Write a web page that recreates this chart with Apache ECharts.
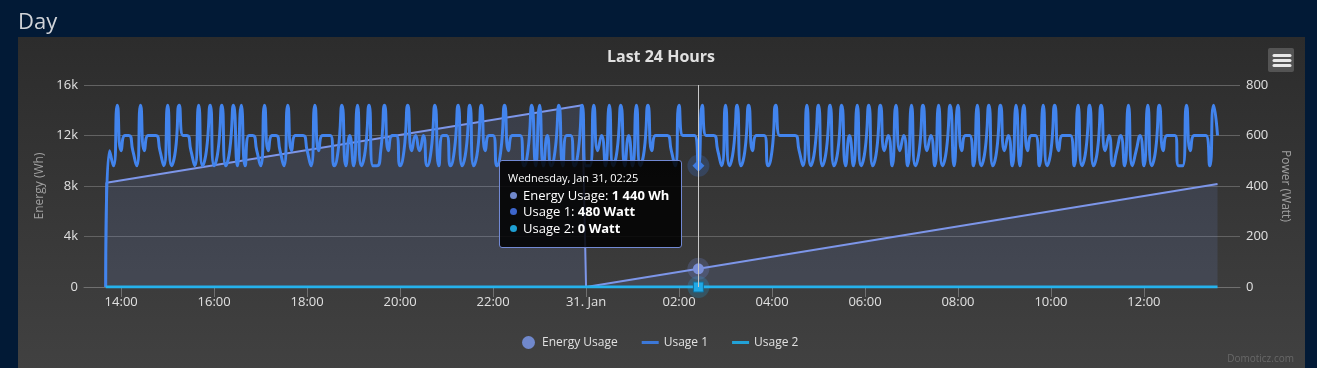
<!DOCTYPE html>
<html><head><meta charset="utf-8">
<script src="https://cdn.jsdelivr.net/npm/echarts@6/dist/echarts.min.js"></script>
<style>
html,body{margin:0;padding:0;background:#021a36;overflow:hidden;}
#panel{position:absolute;left:18px;top:37px;width:1287px;height:331px;background:linear-gradient(to bottom,#2c2c2c,#414141);}
#c{position:absolute;left:0;top:0;width:1317px;height:368px;}
</style>
</head><body><div id="panel"></div><div id="c"></div>
<script>
// ---- data ----
const seriesNames = ['Energy Usage', 'Usage 1', 'Usage 2'];
const seriesUnits = ['Wh', 'Watt', 'Watt'];
const startTime = '2018-01-30T13:40:00Z';   // first 5-minute sample
const stepMinutes = 5;
const axisStart = '2018-01-30T13:12:00Z';
const axisEnd = '2018-01-31T14:04:00Z';
const tipTime = '2018-01-31T02:25:00Z';

const xTickTimes = ['2018-01-30T14:00:00Z', '2018-01-30T16:00:00Z', '2018-01-30T18:00:00Z',
                    '2018-01-30T20:00:00Z', '2018-01-30T22:00:00Z', '2018-01-31T00:00:00Z',
                    '2018-01-31T02:00:00Z', '2018-01-31T04:00:00Z', '2018-01-31T06:00:00Z',
                    '2018-01-31T08:00:00Z', '2018-01-31T10:00:00Z', '2018-01-31T12:00:00Z'];

const energyTimes = ['2018-01-30T13:40:00Z', '2018-01-30T13:41:00Z', '2018-01-30T23:55:00Z',
                     '2018-01-31T00:00:00Z', '2018-01-31T02:25:00Z', '2018-01-31T13:35:00Z'];
const energyValues = [0, 8260, 14400, 0, 1440, 8160];

const usage1Values = [
  0,540,480,720,540,600,600,540,480,720,540,600,
  600,600,540,480,720,480,540,720,600,600,540,480,
  720,480,540,720,480,540,720,480,540,720,480,720,
  480,600,600,540,480,720,540,600,600,540,480,720,
  540,600,600,600,540,480,720,540,600,600,600,480,
  540,720,480,600,480,720,480,540,720,480,480,540,
  720,540,600,600,480,540,720,540,600,540,600,480,
  540,720,480,600,600,480,540,720,480,540,720,480,
  540,720,540,600,600,480,540,720,540,600,600,600,
  480,540,720,480,720,480,600,480,540,720,480,600,
  600,480,540,720,480,480,720,540,600,480,720,480,
  540,720,480,600,480,720,480,540,720,540,600,600,
  600,600,540,480,720,600,600,600,600,480,720,600,
  600,600,540,480,720,480,540,720,480,540,720,540,
  600,600,600,480,540,720,600,600,600,600,600,540,
  480,720,480,540,720,480,540,720,480,540,720,480,
  600,480,720,480,540,720,480,540,720,540,600,480,
  720,540,600,480,720,480,540,720,540,600,480,720,
  480,540,720,480,720,540,600,600,480,720,480,540,
  720,480,540,720,540,600,480,720,480,720,540,600,
  600,480,720,480,540,720,540,600,600,600,480,720,
  480,540,720,480,540,720,540,600,480,540,600,480,
  720,480,540,600,480,720,480,540,720,540,600,600,
  600,480,480,720,540,600,600,600,600,480,720,600
];
const usage2Values = [
  0,0,0,0,0,0,0,0,0,0,0,0,0,0,0,0,0,0,0,0,0,0,0,0,
  0,0,0,0,0,0,0,0,0,0,0,0,0,0,0,0,0,0,0,0,0,0,0,0,
  0,0,0,0,0,0,0,0,0,0,0,0,0,0,0,0,0,0,0,0,0,0,0,0,
  0,0,0,0,0,0,0,0,0,0,0,0,0,0,0,0,0,0,0,0,0,0,0,0,
  0,0,0,0,0,0,0,0,0,0,0,0,0,0,0,0,0,0,0,0,0,0,0,0,
  0,0,0,0,0,0,0,0,0,0,0,0,0,0,0,0,0,0,0,0,0,0,0,0,
  0,0,0,0,0,0,0,0,0,0,0,0,0,0,0,0,0,0,0,0,0,0,0,0,
  0,0,0,0,0,0,0,0,0,0,0,0,0,0,0,0,0,0,0,0,0,0,0,0,
  0,0,0,0,0,0,0,0,0,0,0,0,0,0,0,0,0,0,0,0,0,0,0,0,
  0,0,0,0,0,0,0,0,0,0,0,0,0,0,0,0,0,0,0,0,0,0,0,0,
  0,0,0,0,0,0,0,0,0,0,0,0,0,0,0,0,0,0,0,0,0,0,0,0,
  0,0,0,0,0,0,0,0,0,0,0,0,0,0,0,0,0,0,0,0,0,0,0,0
];
const energyTicks = [0, 4000, 8000, 12000, 16000];
const powerTicks = [0, 200, 400, 600, 800];

// ---- build ----
const MONTHS = ['Jan','Feb','Mar','Apr','May','Jun','Jul','Aug','Sep','Oct','Nov','Dec'];
const DAYS = ['Sunday','Monday','Tuesday','Wednesday','Thursday','Friday','Saturday'];
const pad = n => (n < 10 ? '0' : '') + n;
const grp = v => String(v).replace(/\B(?=(\d{3})+(?!\d))/g, ' ');
const stepMs = stepMinutes * 60000;
const t0 = Date.parse(startTime);
const tipT = Date.parse(tipTime);
const usageTimes = usage1Values.map((_, i) => t0 + i * stepMs);
const energyData = energyTimes.map((t, i) => [Date.parse(t), energyValues[i]]);
const usage1Data = usage1Values.map((v, i) => [usageTimes[i], v]);
const usage2Data = usage2Values.map((v, i) => [usageTimes[i], v]);
const xTicks = xTickTimes.map(t => Date.parse(t));
const tipIndex = usageTimes.indexOf(tipT);
const tipEnergy = energyValues[energyTimes.indexOf(tipTime)];

const C_EN = '#7289d4', C_U1 = '#3c78d8', C_U2 = '#22a2d8';
const BULLETS = ['#7088cc', '#3d66cc', '#1e9fd3'];
const FONT = '"Open Sans", "Noto Sans", sans-serif';

function tipFormatter(params) {
  const d = new Date(params[0].axisValue);
  let h = '<div style="font-size:11px;line-height:16.7px">' + DAYS[d.getUTCDay()] + ', ' +
    MONTHS[d.getUTCMonth()] + ' ' + d.getUTCDate() + ', ' + pad(d.getUTCHours()) + ':' + pad(d.getUTCMinutes()) + '</div>';
  params.filter(p => p.seriesIndex < 3).forEach(p => {
    h += '<div style="line-height:16.7px"><span style="display:inline-block;width:7px;height:7px;border-radius:50%;background:' +
      BULLETS[p.seriesIndex] + ';margin:0 6px 0 2px;vertical-align:1px"></span>' + p.seriesName + ': <b>' +
      grp(p.value[1]) + ' ' + seriesUnits[p.seriesIndex] + '</b></div>';
  });
  return h;
}
const lineIcon = 'path://M0,0 L0.01,0 L0.01,0.01 Z M0,5 L17,5 L17,8 L0,8 Z M16.99,12.99 L17,12.99 L17,13 Z';
const xLabel = function (v) {
  const d = new Date(v);
  if (d.getUTCHours() === 0 && d.getUTCMinutes() === 0) return d.getUTCDate() + '. ' + MONTHS[d.getUTCMonth()];
  return pad(d.getUTCHours()) + ':' + pad(d.getUTCMinutes());
};
const haloSeries = (name, axis, value, color) => ({
  name: name, type: 'scatter', yAxisIndex: axis, data: [[tipT, value]], z: 0,
  symbol: 'circle', symbolSize: 22, silent: true, tooltip: {show: false},
  itemStyle: {color: color}, emphasis: {disabled: true}
});

const chart = echarts.init(document.getElementById('c'), null, {renderer: 'canvas'});
chart.setOption({
  animation: false,
  backgroundColor: 'transparent',
  textStyle: {fontFamily: FONT},
  graphic: [
    {type: 'text', x: 18, y: 23, style: {text: 'Day', font: '22px ' + FONT, fill: '#d0d3d8', verticalAlign: 'middle'}},
    {type: 'text', x: 661, y: 57, style: {text: 'Last 24 Hours', font: 'bold 16px ' + FONT, fill: '#e0e0e0', align: 'center', verticalAlign: 'middle'}},
    {type: 'rect', shape: {x: 1268, y: 48, width: 26, height: 24, r: 2}, style: {fill: '#545454'}},
    {type: 'line', shape: {x1: 1274, y1: 55.5, x2: 1290, y2: 55.5}, style: {stroke: '#e8e8e8', lineWidth: 3, lineCap: 'round'}},
    {type: 'line', shape: {x1: 1274, y1: 60.5, x2: 1290, y2: 60.5}, style: {stroke: '#e8e8e8', lineWidth: 3, lineCap: 'round'}},
    {type: 'line', shape: {x1: 1274, y1: 65.5, x2: 1290, y2: 65.5}, style: {stroke: '#e8e8e8', lineWidth: 3, lineCap: 'round'}},
    {type: 'text', x: 1294, y: 359, style: {text: 'Domoticz.com', font: '10px ' + FONT, fill: '#686868', align: 'right', verticalAlign: 'middle'}}
  ],
  grid: {left: 84, right: 77, top: 85, bottom: 81, containLabel: false},
  legend: {
    left: 517, top: 331, itemWidth: 17, itemHeight: 13, itemGap: 24,
    textStyle: {color: '#e0e0e0', fontSize: 12, fontFamily: FONT},
    data: [
      {name: seriesNames[0], icon: 'circle', itemStyle: {color: '#7088cc'}},
      {name: seriesNames[1], icon: lineIcon, itemStyle: {color: C_U1}},
      {name: seriesNames[2], icon: lineIcon, itemStyle: {color: C_U2}}
    ]
  },
  tooltip: {
    trigger: 'axis', triggerOn: 'none', alwaysShowContent: true, transitionDuration: 0,
    backgroundColor: 'rgba(0,0,0,0.85)', borderColor: C_EN, borderWidth: 1,
    padding: [9, 12, 10, 8],
    textStyle: {color: '#ffffff', fontSize: 13, fontFamily: FONT},
    extraCssText: 'border-radius:3px;box-shadow:none;',
    axisPointer: {type: 'line', animation: false, label: {show: false}, lineStyle: {color: '#c8c8c8', width: 1, type: 'solid'}},
    position: function (pt, params, dom, rect, size) {
      return [pt[0] - size.contentSize[0] - 16, pt[1] - 6];
    },
    formatter: tipFormatter
  },
  xAxis: {
    type: 'value', min: Date.parse(axisStart), max: Date.parse(axisEnd),
    axisLine: {show: true, lineStyle: {color: '#707070', width: 1}},
    axisTick: {show: true, length: 10, lineStyle: {color: '#707070'}, customValues: xTicks},
    splitLine: {show: false},
    axisLabel: {color: '#e0e0e0', fontSize: 13, margin: 9, fontFamily: FONT, customValues: xTicks, formatter: xLabel}
  },
  yAxis: [
    {
      type: 'value', position: 'left', min: energyTicks[0], max: energyTicks[energyTicks.length - 1],
      interval: energyTicks[1] - energyTicks[0],
      name: 'Energy (Wh)', nameLocation: 'middle', nameGap: 38, nameRotate: 90,
      nameTextStyle: {color: '#a0a0a0', fontSize: 12, fontFamily: FONT},
      axisLine: {show: false}, axisTick: {show: false},
      splitLine: {show: true, lineStyle: {color: '#626262', width: 1}},
      axisLabel: {color: '#e0e0e0', fontSize: 13, margin: 6, fontFamily: FONT,
        formatter: v => v >= 1000 ? (v / 1000) + 'k' : String(v)}
    },
    {
      type: 'value', position: 'right', min: powerTicks[0], max: powerTicks[powerTicks.length - 1],
      interval: powerTicks[1] - powerTicks[0],
      name: 'Power (Watt)', nameLocation: 'middle', nameGap: 39, nameRotate: -90,
      nameTextStyle: {color: '#a0a0a0', fontSize: 12, fontFamily: FONT},
      axisLine: {show: false}, axisTick: {show: false},
      splitLine: {show: false},
      axisLabel: {color: '#e0e0e0', fontSize: 13, margin: 6, fontFamily: FONT}
    }
  ],
  series: [
    {
      name: seriesNames[0], type: 'line', yAxisIndex: 0, data: energyData, z: 1,
      symbol: 'circle', symbolSize: 11, showSymbol: false,
      lineStyle: {color: C_EN, width: 2}, itemStyle: {color: C_EN},
      areaStyle: {color: 'rgba(114,137,212,0.22)'},
      emphasis: {scale: false, focus: 'none', lineStyle: {width: 2}, areaStyle: {color: 'rgba(114,137,212,0.22)'},
        itemStyle: {color: '#7b90d8', borderWidth: 0}}
    },
    {
      name: seriesNames[1], type: 'line', yAxisIndex: 1, data: usage1Data, z: 2,
      smooth: 0.6, symbol: 'diamond', symbolSize: 12, showSymbol: false,
      lineStyle: {color: C_U1, width: 3}, itemStyle: {color: C_U1},
      emphasis: {scale: false, focus: 'none', lineStyle: {width: 3}, itemStyle: {color: '#3f7be0', borderWidth: 0}}
    },
    {
      name: seriesNames[2], type: 'line', yAxisIndex: 1, data: usage2Data, z: 3,
      symbol: 'rect', symbolSize: 10, showSymbol: false,
      lineStyle: {color: C_U2, width: 3}, itemStyle: {color: C_U2},
      emphasis: {scale: false, focus: 'none', lineStyle: {width: 3}, itemStyle: {color: '#1fa8e6', borderColor: '#15709a', borderWidth: 1}}
    },
    haloSeries('halo-energy', 0, tipEnergy, 'rgba(114,137,212,0.3)'),
    haloSeries('halo-u1', 1, usage1Values[tipIndex], 'rgba(60,120,216,0.3)'),
    haloSeries('halo-u2', 1, usage2Values[tipIndex], 'rgba(34,162,216,0.3)')
  ]
});
chart.dispatchAction({type: 'showTip', seriesIndex: 1, dataIndex: tipIndex});
</script>
</body></html>
